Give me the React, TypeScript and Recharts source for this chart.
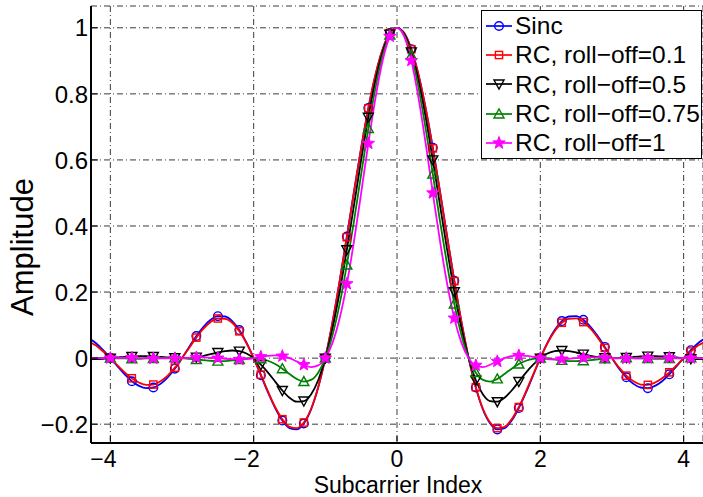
import { LineChart, Line, XAxis, YAxis, CartesianGrid, Legend } from 'recharts'

// subcarrier index, sampled every 0.1
const xValues = [
  -4.3, -4.2, -4.1, -4, -3.9, -3.8, -3.7, -3.6, -3.5, -3.4,
  -3.3, -3.2, -3.1, -3, -2.9, -2.8, -2.7, -2.6, -2.5, -2.4,
  -2.3, -2.2, -2.1, -2, -1.9, -1.8, -1.7, -1.6, -1.5, -1.4,
  -1.3, -1.2, -1.1, -1, -0.9, -0.8, -0.7, -0.6, -0.5, -0.4,
  -0.3, -0.2, -0.1, 0, 0.1, 0.2, 0.3, 0.4, 0.5, 0.6,
  0.7, 0.8, 0.9, 1, 1.1, 1.2, 1.3, 1.4, 1.5, 1.6,
  1.7, 1.8, 1.9, 2, 2.1, 2.2, 2.3, 2.4, 2.5, 2.6,
  2.7, 2.8, 2.9, 3, 3.1, 3.2, 3.3, 3.4, 3.5, 3.6,
  3.7, 3.8, 3.9, 4, 4.1, 4.2, 4.3,
]

const sincValues = [
  0.060, 0.045, 0.024, 0, -0.025, -0.049, -0.070, -0.084, -0.091, -0.089,
  -0.078, -0.058, -0.032, 0, 0.034, 0.067, 0.095, 0.116, 0.127, 0.126,
  0.112, 0.085, 0.047, 0, -0.052, -0.104, -0.151, -0.189, -0.212, -0.216,
  -0.198, -0.156, -0.089, 0, 0.109, 0.234, 0.368, 0.505, 0.637, 0.757,
  0.858, 0.935, 0.984,
  1,
  0.984, 0.935, 0.858, 0.757, 0.637, 0.505, 0.368, 0.234, 0.109, 0,
  -0.089, -0.156, -0.198, -0.216, -0.212, -0.189, -0.151, -0.104, -0.052, 0,
  0.047, 0.085, 0.112, 0.126, 0.127, 0.116, 0.095, 0.067, 0.034, 0,
  -0.032, -0.058, -0.078, -0.089, -0.091, -0.084, -0.070, -0.049, -0.025, 0,
  0.024, 0.045, 0.060,
]

const rc01Values = [
  0.050, 0.038, 0.020, 0, -0.022, -0.043, -0.061, -0.074, -0.081, -0.080,
  -0.070, -0.053, -0.029, 0, 0.031, 0.062, 0.089, 0.109, 0.120, 0.119,
  0.107, 0.081, 0.045, 0, -0.050, -0.101, -0.148, -0.185, -0.208, -0.212,
  -0.195, -0.154, -0.088, 0, 0.109, 0.233, 0.366, 0.503, 0.635, 0.756,
  0.858, 0.935, 0.984,
  1,
  0.984, 0.935, 0.858, 0.756, 0.635, 0.503, 0.366, 0.233, 0.109, 0,
  -0.088, -0.154, -0.195, -0.212, -0.208, -0.185, -0.148, -0.101, -0.050, 0,
  0.045, 0.081, 0.107, 0.119, 0.120, 0.109, 0.089, 0.062, 0.031, 0,
  -0.029, -0.053, -0.070, -0.080, -0.081, -0.074, -0.061, -0.043, -0.022, 0,
  0.020, 0.038, 0.050,
]

const rc05Values = [
  -0.003, -0.003, -0.002, 0, 0.002, 0.004, 0.005, 0.006, 0.006, 0.005,
  0.004, 0.002, 0.001, 0, 0.001, 0.003, 0.007, 0.012, 0.017, 0.021,
  0.023, 0.021, 0.014, 0, -0.020, -0.044, -0.071, -0.098, -0.120, -0.132,
  -0.130, -0.110, -0.067, 0, 0.090, 0.201, 0.328, 0.463, 0.600, 0.729,
  0.841, 0.927, 0.981,
  1,
  0.981, 0.927, 0.841, 0.729, 0.600, 0.463, 0.328, 0.201, 0.090, 0,
  -0.067, -0.110, -0.130, -0.132, -0.120, -0.098, -0.071, -0.044, -0.020, 0,
  0.014, 0.021, 0.023, 0.021, 0.017, 0.012, 0.007, 0.003, 0.001, 0,
  0.001, 0.002, 0.004, 0.005, 0.006, 0.006, 0.005, 0.004, 0.002, 0,
  -0.002, -0.003, -0.003,
]

const rc075Values = [
  0.001, 0.001, 0.001, 0, -0.001, -0.001, -0.002, -0.002, -0.001, -0.001,
  0, 0.001, 0.001, 0, -0.002, -0.004, -0.006, -0.008, -0.009, -0.009,
  -0.007, -0.004, -0.001, 0, -0.002, -0.008, -0.018, -0.032, -0.048, -0.063,
  -0.071, -0.066, -0.044, 0, 0.069, 0.164, 0.282, 0.415, 0.557, 0.695,
  0.819, 0.916, 0.978,
  1,
  0.978, 0.916, 0.819, 0.695, 0.557, 0.415, 0.282, 0.164, 0.069, 0,
  -0.044, -0.066, -0.071, -0.063, -0.048, -0.032, -0.018, -0.008, -0.002, 0,
  -0.001, -0.004, -0.007, -0.009, -0.009, -0.008, -0.006, -0.004, -0.002, 0,
  0.001, 0.001, 0, -0.001, -0.001, -0.002, -0.002, -0.001, -0.001, 0,
  0.001, 0.001, 0.001,
]

const rc1Values = [
  0, 0, 0, 0, 0, 0.001, 0.001, 0, 0, -0.001,
  -0.001, -0.001, -0.001, 0, 0.001, 0.002, 0.002, 0.001, 0, -0.002,
  -0.003, -0.004, -0.003, 0, 0.004, 0.007, 0.008, 0.006, 0, -0.010,
  -0.020, -0.027, -0.022, 0, 0.046, 0.121, 0.225, 0.354, 0.500, 0.650,
  0.788, 0.901, 0.974,
  1,
  0.974, 0.901, 0.788, 0.650, 0.500, 0.354, 0.225, 0.121, 0.046, 0,
  -0.022, -0.027, -0.020, -0.010, 0, 0.006, 0.008, 0.007, 0.004, 0,
  -0.003, -0.004, -0.003, -0.002, 0, 0.001, 0.002, 0.002, 0.001, 0,
  -0.001, -0.001, -0.001, -0.001, 0, 0, 0.001, 0.001, 0, 0,
  0, 0, 0,
]

// x positions that carry a marker
const markerXs = [
  -4, -3.7, -3.4, -3.1, -2.8, -2.5, -2.2, -1.9, -1.6, -1.3, -1, -0.7, -0.4, -0.1,
  0.2, 0.5, 0.8, 1.1, 1.4, 1.7, 2, 2.3, 2.6, 2.9, 3.2, 3.5, 3.8, 4.1,
]

const xTicks = [-4, -2, 0, 2, 4]
const yTicks = [-0.2, 0, 0.2, 0.4, 0.6, 0.8, 1]

type Shape = 'circle' | 'square' | 'tridown' | 'triup' | 'star'

const SERIES: { key: string; name: string; color: string; shape: Shape }[] = [
  { key: 'sinc', name: 'Sinc', color: '#0000ff', shape: 'circle' },
  { key: 'rc01', name: 'RC, roll\u2212off=0.1', color: '#ff0000', shape: 'square' },
  { key: 'rc05', name: 'RC, roll\u2212off=0.5', color: '#000000', shape: 'tridown' },
  { key: 'rc075', name: 'RC, roll\u2212off=0.75', color: '#008000', shape: 'triup' },
  { key: 'rc1', name: 'RC, roll\u2212off=1', color: '#ff00ff', shape: 'star' },
]

const rows = xValues.map((x, i) => ({
  x,
  sinc: sincValues[i],
  rc01: rc01Values[i],
  rc05: rc05Values[i],
  rc075: rc075Values[i],
  rc1: rc1Values[i],
}))

const FONT = '"Liberation Sans", Arial, Helvetica, sans-serif'

function marker(shape: Shape, cx: number, cy: number, color: string, key?: string) {
  const common = { fill: 'none', stroke: color, strokeWidth: 1.4 }
  if (shape === 'circle') return <circle key={key} cx={cx} cy={cy} r={4.3} {...common} />
  if (shape === 'square') return <rect key={key} x={cx - 3.6} y={cy - 3.6} width={7.2} height={7.2} {...common} />
  if (shape === 'tridown')
    return <polygon key={key} points={`${cx - 5},${cy - 4} ${cx + 5},${cy - 4} ${cx},${cy + 5}`} {...common} />
  if (shape === 'triup')
    return <polygon key={key} points={`${cx - 5},${cy + 4} ${cx + 5},${cy + 4} ${cx},${cy - 5}`} {...common} />
  const pts: string[] = []
  for (let k = 0; k < 10; k++) {
    const r = k % 2 === 0 ? 6.5 : 2.7
    const a = -Math.PI / 2 + (k * Math.PI) / 5
    pts.push(`${cx + r * Math.cos(a)},${cy + r * Math.sin(a)}`)
  }
  return <polygon key={key} points={pts.join(' ')} fill={color} stroke={color} strokeWidth={1} />
}

const fmt = (v: number) => (v < 0 ? '\u2212' + Math.abs(v) : String(v))

const XTick = (props: any) => {
  const { x, y, payload } = props
  const v = payload.value as number
  return (
    <g>
      <line x1={x} x2={x} y1={y} y2={y - 7} stroke="#000" strokeWidth={1} />
      <text x={v < 0 ? x - 7 : x} y={y + 24} textAnchor="middle" fontSize={23} fontFamily={FONT} fill="#000">
        {fmt(v)}
      </text>
    </g>
  )
}

const TopTick = (props: any) => {
  const { x, y } = props
  return <line x1={x} x2={x} y1={y} y2={y + 7} stroke="#000" strokeWidth={1} />
}

const YTick = (props: any) => {
  const { x, y, payload } = props
  return (
    <g>
      <line x1={x} x2={x + 7} y1={y} y2={y} stroke="#000" strokeWidth={1} />
      <text x={x - 3} y={y} dy="0.36em" textAnchor="end" fontSize={24} fontFamily={FONT} fill="#000">
        {fmt(payload.value)}
      </text>
    </g>
  )
}

const LegendBox = () => (
  <div
    style={{
      boxSizing: 'border-box',
      width: 221,
      height: 149,
      border: '1.3px solid #000',
      background: '#fff',
      fontFamily: FONT,
      fontSize: 24.5,
      color: '#000',
    }}
  >
    {SERIES.map((s) => (
      <div key={s.key} style={{ display: 'flex', alignItems: 'center', height: 29.3 }}>
        <svg width={33} height={20} style={{ display: 'block', flex: 'none' }}>
          <line x1={4} x2={30} y1={10} y2={10} stroke={s.color} strokeWidth={1.7} />
          {marker(s.shape, 17, 10, s.color)}
        </svg>
        <span style={{ whiteSpace: 'nowrap', lineHeight: '29px' }}>{s.name}</span>
      </div>
    ))}
  </div>
)

export default function App() {
  return (
    <div style={{ position: 'absolute', left: 0, top: 0, width: 703, height: 497, overflow: 'hidden', background: '#fff' }}>
      <LineChart width={703} height={497} data={rows} margin={{ top: 6, right: 0, bottom: 0, left: 0 }}>
        <CartesianGrid
          horizontal
          vertical
          stroke="#3a3a3a"
          strokeWidth={1}
          strokeDasharray="6 3 1 3"
        />
        <XAxis
          dataKey="x"
          type="number"
          domain={[-4.27, 4.27]}
          allowDataOverflow
          ticks={xTicks}
          tick={<XTick />}
          tickSize={0}
          tickMargin={0}
          tickLine={false}
          axisLine={{ stroke: '#000', strokeWidth: 2 }}
          height={54}
          label={() => (
            <text x={398} y={493} textAnchor="middle" fontSize={23} fontFamily={FONT} fill="#000">
              Subcarrier Index
            </text>
          )}
        />
        <XAxis
          xAxisId="top"
          orientation="top"
          type="number"
          domain={[-4.27, 4.27]}
          allowDataOverflow
          ticks={xTicks}
          tick={<TopTick />}
          tickSize={0}
          tickMargin={0}
          tickLine={false}
          axisLine={{ stroke: '#000', strokeWidth: 1 }}
          height={0}
        />
        <YAxis
          type="number"
          domain={[-0.257, 1.066]}
          allowDataOverflow
          ticks={yTicks}
          tick={<YTick />}
          tickSize={0}
          tickMargin={0}
          tickLine={false}
          axisLine={{ stroke: '#000', strokeWidth: 2 }}
          width={91}
          label={() => (
            <text
              x={33}
              y={247}
              transform="rotate(-90 33 247)"
              textAnchor="middle"
              fontSize={31}
              fontFamily={FONT}
              fill="#000"
            >
              Amplitude
            </text>
          )}
        />
        <Legend
          layout="vertical"
          align="center"
          verticalAlign="middle"
          wrapperStyle={{ left: 481, top: 10, width: 221, height: 149 }}
          content={() => <LegendBox />}
        />
        {SERIES.map((s) => (
          <Line
            key={s.key}
            dataKey={s.key}
            name={s.name}
            type="monotone"
            stroke={s.color}
            strokeWidth={1.8}
            isAnimationActive={false}
            activeDot={false}
            dot={(p: any) => {
              const show = markerXs.some((m) => Math.abs(m - p.payload.x) < 1e-6)
              if (!show || p.cx == null || p.cy == null) return <g key={`${s.key}-${p.index}`} />
              return marker(s.shape, p.cx, p.cy, s.color, `${s.key}-${p.index}`)
            }}
          />
        ))}
      </LineChart>
    </div>
  )
}
